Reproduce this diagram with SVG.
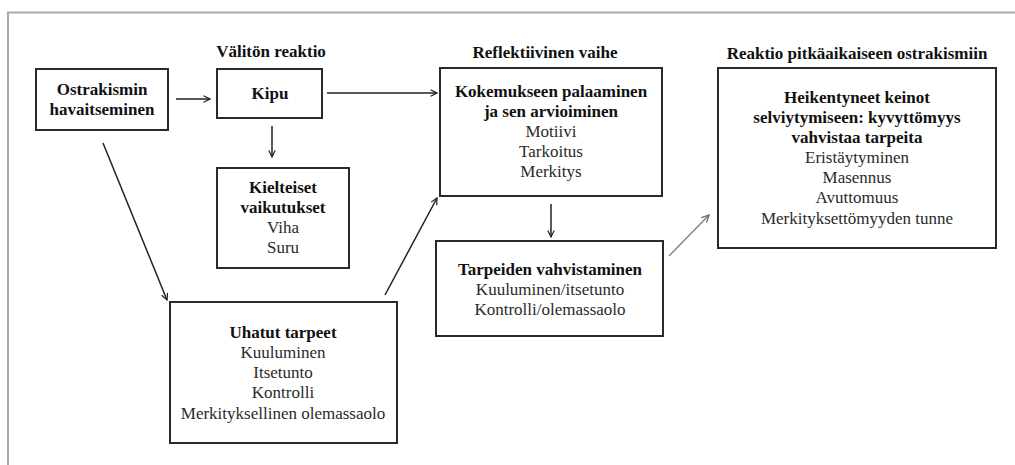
<svg xmlns="http://www.w3.org/2000/svg" width="1015" height="465" viewBox="0 0 1015 465">
<style>
.box{fill:#fff;stroke:#2a2a2a;stroke-width:2}
.b{font-family:"Liberation Serif",serif;font-size:17px;font-weight:bold;fill:#111;text-anchor:middle}
.r{font-family:"Liberation Serif",serif;font-size:17px;fill:#2a2a2a;text-anchor:middle}
.c{fill:none;stroke:#222;stroke-width:1.5}
.cg{fill:none;stroke:#777;stroke-width:1.2}
</style>
<defs>
<marker id="ah" viewBox="0 0 10 10" refX="9" refY="5" markerWidth="8" markerHeight="8" markerUnits="userSpaceOnUse" orient="auto">
<path d="M1,1 L9,5 L1,9" fill="none" stroke="#222" stroke-width="1.5"/>
</marker>
<marker id="ahg" viewBox="0 0 10 10" refX="9" refY="5" markerWidth="9" markerHeight="9" markerUnits="userSpaceOnUse" orient="auto">
<path d="M1,1 L9,5 L1,9" fill="none" stroke="#666" stroke-width="1.4"/>
</marker>
</defs>
<rect width="1015" height="465" fill="#fff"/>
<path d="M8,465 V12.5 H1015" fill="none" stroke="#aaa" stroke-width="2"/>

<g id="headers">
<text class="b" x="271" y="57">Välitön reaktio</text>
<text class="b" x="545" y="58">Reflektiivinen vaihe</text>
<text class="b" x="857" y="59">Reaktio pitkäaikaiseen ostrakismiin</text>
</g>

<g id="connectors">
<line class="c" x1="176" y1="99" x2="210" y2="99" marker-end="url(#ah)"/>
<line class="c" x1="327" y1="93" x2="437" y2="93" marker-end="url(#ah)"/>
<line class="c" x1="272" y1="126" x2="272" y2="157" marker-end="url(#ah)"/>
<line class="c" x1="103" y1="143" x2="167" y2="300" marker-end="url(#ah)"/>
<line class="c" x1="385" y1="295" x2="437" y2="198" marker-end="url(#ah)"/>
<line class="c" x1="551" y1="204" x2="551" y2="237" marker-end="url(#ah)"/>
<line class="cg" x1="669" y1="256" x2="709" y2="215" marker-end="url(#ahg)"/>
</g>

<g id="ostrakismin">
<rect class="box" x="36" y="69" width="132" height="61"/>
<text class="b" x="102" y="95">Ostrakismin</text>
<text class="b" x="102" y="115">havaitseminen</text>
</g>

<g id="kipu">
<rect class="box" x="217" y="69" width="105" height="49"/>
<text class="b" x="270" y="99">Kipu</text>
</g>

<g id="kielteiset">
<rect class="box" x="217" y="168" width="132" height="100"/>
<text class="b" x="283" y="193">Kielteiset</text>
<text class="b" x="283" y="213">vaikutukset</text>
<text class="r" x="283" y="233">Viha</text>
<text class="r" x="283" y="253">Suru</text>
</g>

<g id="uhatut">
<rect class="box" x="170" y="302" width="227" height="141"/>
<text class="b" x="283" y="338">Uhatut tarpeet</text>
<text class="r" x="283" y="358">Kuuluminen</text>
<text class="r" x="283" y="378">Itsetunto</text>
<text class="r" x="283" y="398">Kontrolli</text>
<text class="r" x="283" y="419">Merkityksellinen olemassaolo</text>
</g>

<g id="kokemukseen">
<rect class="box" x="440" y="68" width="222" height="128"/>
<text class="b" x="551" y="97">Kokemukseen palaaminen</text>
<text class="b" x="551" y="117">ja sen arvioiminen</text>
<text class="r" x="551" y="137">Motiivi</text>
<text class="r" x="551" y="157">Tarkoitus</text>
<text class="r" x="551" y="177">Merkitys</text>
</g>

<g id="tarpeiden">
<rect class="box" x="436" y="241" width="227" height="95"/>
<text class="b" x="550" y="275">Tarpeiden vahvistaminen</text>
<text class="r" x="550" y="295">Kuuluminen/itsetunto</text>
<text class="r" x="550" y="315">Kontrolli/olemassaolo</text>
</g>

<g id="heikentyneet">
<rect class="box" x="718" y="68" width="278" height="180"/>
<text class="b" x="857" y="103">Heikentyneet keinot</text>
<text class="b" x="857" y="123">selviytymiseen: kyvyttömyys</text>
<text class="b" x="857" y="143">vahvistaa tarpeita</text>
<text class="r" x="857" y="163">Eristäytyminen</text>
<text class="r" x="857" y="183">Masennus</text>
<text class="r" x="857" y="203">Avuttomuus</text>
<text class="r" x="857" y="224">Merkityksettömyyden tunne</text>
</g>
</svg>
